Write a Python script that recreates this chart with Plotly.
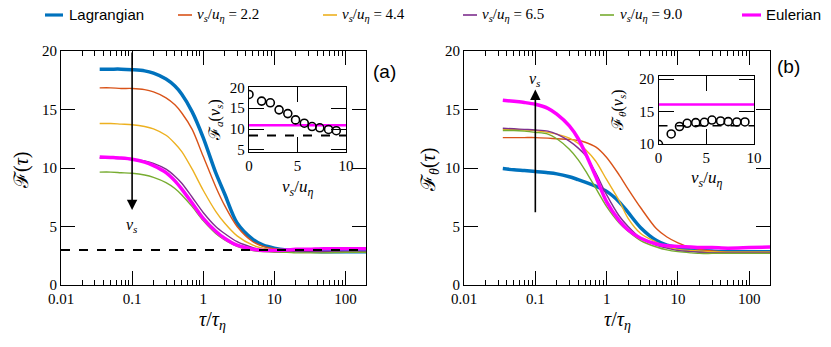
import plotly.graph_objects as go

# ---------------- data ----------------
tau = [0.035, 0.05, 0.07, 0.1, 0.15, 0.2, 0.3, 0.4, 0.5, 0.7, 1.0, 1.5, 2.0, 3.0,
       5.0, 7.0, 10.0, 15.0, 20.0, 30.0, 50.0, 100.0, 200.0]

# panel (a): F(tau)
a_lag = [18.45, 18.45, 18.45, 18.4, 18.3, 18.1, 17.6, 17.0, 16.3, 14.8, 12.6, 9.6, 7.8, 5.3,
         3.9, 3.4, 3.15, 3.0, 2.95, 2.9, 2.85, 2.85, 2.85]
a_22 = [16.85, 16.85, 16.8, 16.8, 16.7, 16.5, 16.0, 15.4, 14.7, 13.3, 11.0, 8.4, 6.8, 5.0,
        3.7, 3.3, 3.1, 3.0, 2.95, 2.9, 2.85, 2.85, 2.85]
a_44 = [13.8, 13.8, 13.75, 13.7, 13.55, 13.35, 12.8, 12.1, 11.4, 9.9, 8.1, 6.3, 5.3, 4.2,
        3.4, 3.15, 3.0, 2.95, 2.9, 2.85, 2.85, 2.85, 2.85]
a_65 = [10.85, 10.85, 10.8, 10.75, 10.6, 10.4, 9.9, 9.3, 8.7, 7.5, 6.2, 5.0, 4.4, 3.7,
        3.2, 3.0, 2.95, 2.9, 2.85, 2.85, 2.85, 2.85, 2.85]
a_90 = [9.65, 9.65, 9.6, 9.55, 9.4, 9.2, 8.75, 8.25, 7.7, 6.7, 5.5, 4.4, 3.85, 3.3,
        2.95, 2.85, 2.8, 2.8, 2.75, 2.75, 2.75, 2.8, 2.8]
a_eul = [10.95, 10.9, 10.85, 10.75, 10.5, 10.2, 9.6, 8.9, 8.2, 7.0, 5.7, 4.6, 4.0, 3.4,
         3.05, 2.95, 2.95, 3.0, 3.05, 3.05, 3.1, 3.1, 3.1]
a_asym = 3.0

# panel (b): F_theta(tau)
b_lag = [9.95, 9.85, 9.78, 9.7, 9.6, 9.5, 9.25, 9.0, 8.8, 8.45, 8.0, 7.1, 6.2, 4.9,
         3.8, 3.4, 3.2, 3.0, 2.95, 2.9, 2.85, 2.85, 2.85]
b_22 = [12.6, 12.6, 12.6, 12.6, 12.55, 12.5, 12.45, 12.35, 12.2, 11.8, 10.9, 9.4, 8.2, 6.6,
        4.8, 4.1, 3.6, 3.2, 3.05, 2.9, 2.8, 2.8, 2.8]
b_44 = [13.3, 13.3, 13.25, 13.2, 13.05, 12.9, 12.55, 12.1, 11.6, 10.6, 9.0, 7.2, 5.7, 4.4,
        3.65, 3.25, 3.05, 2.95, 2.9, 2.85, 2.8, 2.8, 2.8]
b_65 = [13.4, 13.35, 13.3, 13.25, 13.15, 12.9, 12.3, 11.7, 11.1, 9.6, 7.7, 5.9, 5.0, 4.0,
        3.4, 3.15, 2.95, 2.85, 2.8, 2.75, 2.75, 2.75, 2.75]
b_90 = [13.2, 13.2, 13.15, 13.05, 12.9, 12.5, 11.6, 10.7, 9.8, 8.3, 6.7, 5.3, 4.6, 3.8,
        3.25, 3.0, 2.85, 2.75, 2.7, 2.7, 2.7, 2.7, 2.7]
b_eul = [15.8, 15.7, 15.6, 15.45, 15.1, 14.6, 13.6, 12.5, 11.3, 9.3, 7.1, 5.5, 4.7, 4.0,
         3.5, 3.35, 3.3, 3.25, 3.2, 3.2, 3.15, 3.2, 3.25]

# insets
vs_a = [0.0, 1.3, 2.2, 3.1, 4.0, 4.8, 5.7, 6.5, 7.3, 8.2, 9.0]
Fa_vs = [18.3, 16.7, 16.3, 14.6, 13.7, 12.2, 11.4, 10.6, 10.3, 9.9, 9.6]
Fa_eul = 10.9
Fa_ref = 8.45
vs_b = [0.0, 1.33, 2.2, 3.0, 3.9, 4.8, 5.6, 6.5, 7.3, 8.2, 9.05]
Ft_vs = [9.95, 11.55, 12.7, 13.2, 13.3, 13.35, 13.7, 13.55, 13.45, 13.4, 13.4]
Ft_eul = 16.1
Ft_ref = 12.8

tau_span = [0.01, 200.0]
vs_span = [0.0, 10.0]

names = ["Lagrangian", "2.2", "4.4", "6.5", "9.0", "Eulerian"]
colors = ["#0072BD", "#D95319", "#EDB120", "#7E2F8E", "#77AC30", "#FF00FF"]
widths = [3.5, 1.4, 1.4, 1.4, 1.4, 3.5]

SERIF = "Liberation Serif, DejaVu Serif, serif"
SANS = "Liberation Sans, Arial, sans-serif"

W, H = 831, 347


def px_x(p):
    return p / W


def px_y(p):
    return 1 - p / H


fig = go.Figure()

a_series = [a_lag, a_22, a_44, a_65, a_90, a_eul]
b_series = [b_lag, b_22, b_44, b_65, b_90, b_eul]
for i in range(6):
    fig.add_trace(go.Scatter(x=tau, y=a_series[i], mode="lines", name=names[i],
                             line=dict(color=colors[i], width=widths[i], shape="spline",
                                       smoothing=0.8),
                             xaxis="x", yaxis="y", showlegend=False))
for i in range(6):
    fig.add_trace(go.Scatter(x=tau, y=b_series[i], mode="lines", name=names[i],
                             line=dict(color=colors[i], width=widths[i], shape="spline",
                                       smoothing=0.8),
                             xaxis="x2", yaxis="y2", showlegend=False))

fig.add_trace(go.Scatter(x=tau_span, y=[a_asym, a_asym], mode="lines",
                         line=dict(color="black", width=2, dash="dash"),
                         xaxis="x", yaxis="y", showlegend=False))

# inset (a)
fig.add_trace(go.Scatter(x=vs_span, y=[Fa_eul, Fa_eul], mode="lines",
                         line=dict(color="#FF00FF", width=2.5), xaxis="x3", yaxis="y3",
                         showlegend=False))
fig.add_trace(go.Scatter(x=vs_span, y=[Fa_ref, Fa_ref], mode="lines",
                         line=dict(color="black", width=2, dash="dash"), xaxis="x3", yaxis="y3",
                         showlegend=False))
fig.add_trace(go.Scatter(x=vs_a, y=Fa_vs, mode="markers",
                         marker=dict(symbol="circle-open", size=8, color="black",
                                     line=dict(width=1.6, color="black")),
                         xaxis="x3", yaxis="y3", showlegend=False))
# inset (b)
fig.add_trace(go.Scatter(x=vs_span, y=[Ft_eul, Ft_eul], mode="lines",
                         line=dict(color="#FF00FF", width=2.5), xaxis="x4", yaxis="y4",
                         showlegend=False))
fig.add_trace(go.Scatter(x=vs_span, y=[Ft_ref, Ft_ref], mode="lines",
                         line=dict(color="black", width=1.5, dash="dash"), xaxis="x4", yaxis="y4",
                         showlegend=False))
fig.add_trace(go.Scatter(x=vs_b, y=Ft_vs, mode="markers",
                         marker=dict(symbol="circle-open", size=8, color="black",
                                     line=dict(width=1.6, color="black")),
                         xaxis="x4", yaxis="y4", showlegend=False))

main_common = dict(showline=True, linecolor="black", linewidth=1, mirror="ticks",
                   ticks="inside", ticklen=14, tickcolor="black", tickwidth=1.3,
                   showgrid=False, zeroline=False, automargin=False,
                   tickfont=dict(family=SERIF, size=15, color="black"))

log_x = dict(type="log", range=[-2, 2.29], dtick=1,
             minor=dict(ticks="inside", ticklen=5, tickcolor="black", dtick="D1", showgrid=False),
             **main_common)
lin_y = dict(range=[0, 20], dtick=5, **main_common)

inset_common = dict(showline=True, linecolor="black", linewidth=1.3, mirror="ticks",
                    ticks="inside", ticklen=15, tickcolor="black", tickwidth=1.3,
                    showgrid=False, zeroline=False, automargin=False,
                    tickfont=dict(family=SERIF, size=15, color="black"))

fig.update_layout(
    width=W, height=H,
    margin=dict(l=0, r=0, t=0, b=0, autoexpand=False),
    paper_bgcolor="white", plot_bgcolor="white",
    font=dict(family=SANS, color="black"),
    showlegend=False,
    xaxis=dict(domain=[px_x(61), px_x(366)], anchor="y", **log_x),
    yaxis=dict(domain=[px_y(285), px_y(51)], anchor="x", **lin_y),
    xaxis2=dict(domain=[px_x(464), px_x(770)], anchor="y2", **log_x),
    yaxis2=dict(domain=[px_y(285), px_y(51)], anchor="x2", **lin_y),
    xaxis3=dict(domain=[px_x(249), px_x(346)], anchor="y3", range=[0, 10], dtick=5, **inset_common),
    yaxis3=dict(domain=[px_y(152), px_y(86.5)], anchor="x3", range=[4.5, 20.2], dtick=5,
                **inset_common),
    xaxis4=dict(domain=[px_x(658.5), px_x(754)], anchor="y4", range=[0, 10], dtick=5, **inset_common),
    yaxis4=dict(domain=[px_y(144), px_y(76)], anchor="x4", range=[10, 20.5], dtick=5,
                **inset_common),
)

ann = []
shapes = []


def text(t, x, y, size, family=SERIF, angle=0, xanchor="center"):
    ann.append(dict(text=t, x=px_x(x), y=px_y(y), xref="paper", yref="paper",
                    xanchor=xanchor, yanchor="middle", textangle=angle, showarrow=False,
                    font=dict(family=family, size=size, color="black")))


# legend (manual keys)
vsu = "<i>v</i><sub><i>s</i></sub>/<i>u</i><sub><i>η</i></sub>"
leg_key_x = [45, 178, 323, 463, 600, 742]
leg_key_len = [18, 14, 14, 14, 14, 19]
leg_text_x = [67, 195, 340, 480, 618, 764]
for i in range(6):
    shapes.append(dict(type="line", xref="paper", yref="paper",
                       x0=px_x(leg_key_x[i]), x1=px_x(leg_key_x[i] + leg_key_len[i]),
                       y0=px_y(15), y1=px_y(15),
                       line=dict(color=colors[i], width=widths[i] * 0.9 if i in (0, 5) else 1.6)))
    if i in (0, 5):
        text(names[i], leg_text_x[i], 15, 15, family=SANS, xanchor="left")
    else:
        text(vsu + " = " + names[i], leg_text_x[i], 15, 15, xanchor="left")

tt = "<i>τ</i>/<i>τ</i><sub><i>η</i></sub>"
text(tt, 213, 320, 20)
text(tt, 617, 320, 20)
text("ℱ(<i>τ</i>)", 22, 170, 20, angle=-90)
text("ℱ<sub><i>θ</i></sub>(<i>τ</i>)", 430, 170, 20, angle=-90)
# inset titles
text(vsu, 297, 188, 17)
text(vsu, 706, 179, 17)
text("ℱ<sub><i>a</i></sub>(<i>v</i><sub><i>s</i></sub>)", 215, 120, 16, angle=-90)
text("ℱ<sub><i>θ</i></sub>(<i>v</i><sub><i>s</i></sub>)", 618, 110, 16, angle=-90)
# panel labels
text("(a)", 384, 72, 19, family=SANS)
text("(b)", 788, 66, 19, family=SANS)

# arrows
ann.append(dict(x=-1, y=6.4, ax=-1, ay=20, xref="x", yref="y", axref="x", ayref="y",
                text="", showarrow=True, arrowhead=2, arrowsize=1.3, arrowwidth=1.6,
                arrowcolor="black"))
ann.append(dict(text="<i>v</i><sub><i>s</i></sub>", x=-1, y=5.1, xref="x", yref="y",
                xanchor="center", yanchor="middle",
                showarrow=False, font=dict(family=SERIF, size=16)))
ann.append(dict(x=-1, y=16.7, ax=-1, ay=6.1, xref="x2", yref="y2", axref="x2", ayref="y2",
                text="", showarrow=True, arrowhead=2, arrowsize=1.3, arrowwidth=1.6,
                arrowcolor="black"))
ann.append(dict(text="<i>v</i><sub><i>s</i></sub>", x=-1, y=17.6, xref="x2", yref="y2",
                xanchor="center", yanchor="middle",
                showarrow=False, font=dict(family=SERIF, size=16)))
fig.update_layout(annotations=ann, shapes=shapes)

fig.write_html("out.html", config={"displayModeBar": False},
               post_script="document.body.style.margin='0';document.body.style.padding='0';")
